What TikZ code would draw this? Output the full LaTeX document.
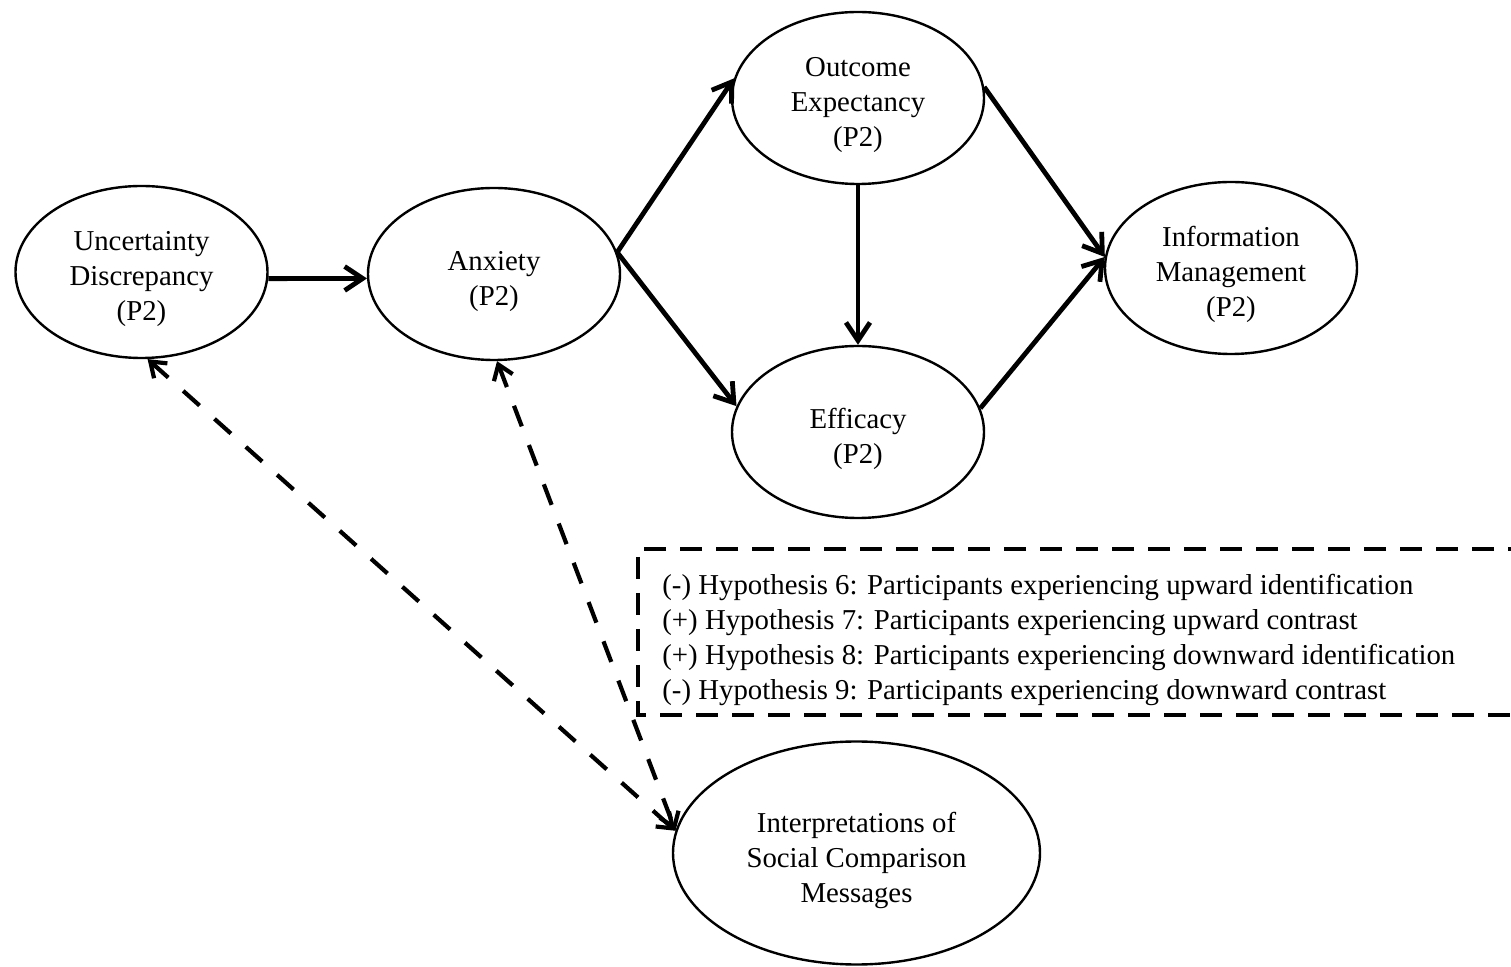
\documentclass[tikz,border=0pt]{standalone}
\usepackage{fontspec}
\setmainfont{Liberation Serif}
\usetikzlibrary{shapes.geometric,arrows.meta}
\newcommand{\lowtext}[1]{\raisebox{-3.5pt}[\height][\depth]{\begin{tabular}{@{}c@{}}#1\end{tabular}}}
\begin{document}
\begin{tikzpicture}[x=0.5pt,y=-0.5pt,
  every node/.style={font=\fontsize{14.4}{17.5}\selectfont},
  ell/.style={draw, ellipse, line width=1.2pt, inner sep=0pt,
    minimum width=126pt, minimum height=86pt},
  bigell/.style={ell, minimum width=183.5pt, minimum height=111.5pt},
  solidarr/.style={line width=2.4pt,
    -{Straight Barb[length=9pt,width=12pt,line width=2.4pt]}},
  dasharr/.style={line width=2.1pt, dash pattern=on 11pt off 10pt,
    {Straight Barb[length=7pt,width=10pt,line width=2.1pt]}-{Straight Barb[length=7pt,width=10pt,line width=2.1pt]}},
  hypbox/.style={line width=2.4pt, dash pattern=on 11pt off 7pt}
]
\useasboundingbox (0,0) rectangle (1511,967);
\clip (0,0) rectangle (1511,967);

\node[ell] (ud)  at (141.5,272) {\lowtext{Uncertainty\\Discrepancy\\(P2)}};
\node[ell] (anx) at (494,274) {\lowtext{Anxiety\\(P2)}};
\node[ell] (oe)  at (858,98) {\lowtext{Outcome\\Expectancy\\(P2)}};
\node[ell] (ef)  at (858,432) {\lowtext{Efficacy\\(P2)}};
\node[ell] (im)  at (1231,268) {\lowtext{Information\\Management\\(P2)}};
\node[bigell] (ic) at (856.5,853) {\lowtext{Interpretations of\\Social Comparison\\Messages}};

\draw[solidarr] (ud.-3) -- (anx.182);
\draw[solidarr] (anx.10) -- (oe.171);
\draw[solidarr] (anx.10) -- (ef.168);
\draw[solidarr] (oe.south) -- (ef.north);
\draw[solidarr] (oe.5) -- (im.175);
\draw[solidarr] (ef.11) -- (im.175);

\draw[dasharr] (ud.-86) -- (ic.173);
\draw[dasharr] (anx.-88) -- (ic.173);

\node[anchor=west, align=left, inner sep=0pt] (hyp) at (662,639.5)
  {(-) Hypothesis 6: Participants experiencing upward identification\\
   (+) Hypothesis 7: Participants experiencing upward contrast\\
   (+) Hypothesis 8: Participants experiencing downward identification\\
   (-) Hypothesis 9: Participants experiencing downward contrast};
\draw[hypbox] (1530,549) -| (638,715) -- (1530,715);
\end{tikzpicture}
\end{document}
